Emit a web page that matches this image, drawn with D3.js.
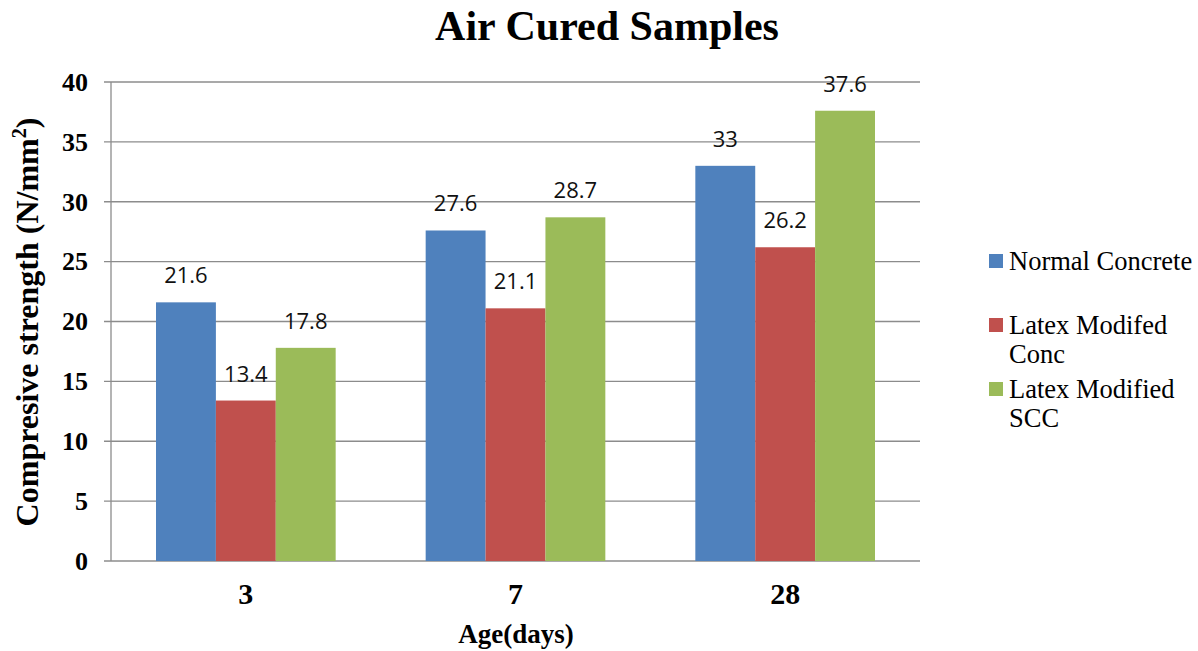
<!DOCTYPE html>
<html>
<head>
<meta charset="utf-8">
<script src="https://cdn.jsdelivr.net/npm/d3@7"></script>
<style>
  body { margin: 0; background: #fff; }
  svg { display: block; }
  .serif { font-family: "Liberation Serif", "Times New Roman", serif; }
  .sans { font-family: "Open Sans", "Liberation Sans", sans-serif; }
</style>
</head>
<body>
<svg id="chart" width="1198" height="651"></svg>
<script>
// chart data
const ages = ["3", "7", "28"];
const seriesNames = ["Normal Concrete", "Latex Modifed Conc", "Latex Modified SCC"];
const normalConcrete = [21.6, 27.6, 33];
const latexConc = [13.4, 21.1, 26.2];
const latexScc = [17.8, 28.7, 37.6];
const yTicks = [0, 5, 10, 15, 20, 25, 30, 35, 40];
const colors = ["#4F81BD", "#C0504D", "#9BBB59"];

const allSeries = [normalConcrete, latexConc, latexScc];

const svg = d3.select("#chart");
const margin = { left: 111, right: 278, top: 82, bottom: 90 };
const width = 1198 - margin.left - margin.right;
const height = 651 - margin.top - margin.bottom;

const g = svg.append("g").attr("transform", `translate(${margin.left},${margin.top})`);

const xScale = d3.scaleBand().domain(ages).range([0, width]).paddingInner(0).paddingOuter(0);
const xInner = d3.scaleBand().domain(d3.range(3)).range([45, xScale.bandwidth() - 45]);
const yScale = d3.scaleLinear().domain([0, 40]).range([height, 0]);

// gridlines
g.append("g")
  .selectAll("line")
  .data(yTicks)
  .enter()
  .append("line")
  .attr("x1", -7)
  .attr("x2", width)
  .attr("y1", d => yScale(d))
  .attr("y2", d => yScale(d))
  .attr("stroke", "#8c8c8c")
  .attr("stroke-width", 1.3);

// y axis labels
const yAxis = d3.axisLeft(yScale).tickValues(yTicks).tickSize(0).tickPadding(23);
g.append("g")
  .call(yAxis)
  .call(s => s.select(".domain").remove())
  .attr("font-family", null)
  .attr("font-size", null)
  .selectAll("text")
  .attr("class", "serif")
  .attr("font-weight", "bold")
  .style("font-size", "26px")
  .attr("fill", "#000");

// bars
const groups = g.selectAll(".grp")
  .data(ages)
  .enter()
  .append("g")
  .attr("class", "grp")
  .attr("transform", d => `translate(${xScale(d)},0)`);

groups.selectAll("rect")
  .data((d, i) => allSeries.map((s, j) => ({ s: j, v: s[i] })))
  .enter()
  .append("rect")
  .attr("x", d => xInner(d.s))
  .attr("width", xInner.bandwidth())
  .attr("y", d => yScale(d.v))
  .attr("height", d => height - yScale(d.v))
  .attr("fill", d => colors[d.s]);

groups.selectAll(".lbl")
  .data((d, i) => allSeries.map((s, j) => ({ s: j, v: s[i] })))
  .enter()
  .append("text")
  .attr("class", "lbl sans")
  .attr("x", d => xInner(d.s) + xInner.bandwidth() / 2)
  .attr("y", d => yScale(d.v) - 19)
  .attr("text-anchor", "middle")
  .style("font-size", "22px")
  .attr("fill", "#111")
  .text(d => d.v);

// y axis line
g.append("line")
  .attr("x1", 0).attr("x2", 0)
  .attr("y1", 0).attr("y2", height)
  .attr("stroke", "#8c8c8c")
  .attr("stroke-width", 1.3);

// x axis
const xAxis = d3.axisBottom(xScale).tickSize(0).tickPadding(22);
g.append("g")
  .attr("transform", `translate(0,${height})`)
  .call(xAxis)
  .call(s => s.select(".domain").remove())
  .attr("font-family", null)
  .attr("font-size", null)
  .selectAll("text")
  .attr("class", "serif")
  .attr("font-weight", "bold")
  .style("font-size", "30px")
  .attr("fill", "#000");

// title
svg.append("text")
  .attr("class", "serif")
  .attr("x", 607)
  .attr("y", 40)
  .attr("text-anchor", "middle")
  .attr("font-weight", "bold")
  .style("font-size", "42px")
  .text("Air Cured Samples");

// axis titles
svg.append("text")
  .attr("class", "serif")
  .attr("x", 516)
  .attr("y", 643)
  .attr("text-anchor", "middle")
  .attr("font-weight", "bold")
  .style("font-size", "27px")
  .text("Age(days)");

const yTitle = svg.append("text")
  .attr("class", "serif")
  .attr("transform", "translate(38,322) rotate(-90)")
  .attr("text-anchor", "middle")
  .attr("font-weight", "bold")
  .style("font-size", "32px");
yTitle.append("tspan").text("Compresive strength (N/mm");
yTitle.append("tspan").attr("dy", -12).style("font-size", "20px").text("2");
yTitle.append("tspan").attr("dy", 12).text(")");

// legend
const legendLines = [["Normal Concrete"], ["Latex Modifed", "Conc"], ["Latex Modified", "SCC"]];
const legendY = [261, 325, 389];
const legend = svg.append("g");
legendLines.forEach((lines, i) => {
  legend.append("rect")
    .attr("x", 989)
    .attr("y", legendY[i] - 7)
    .attr("width", 14)
    .attr("height", 14)
    .attr("fill", colors[i]);
  const t = legend.append("text")
    .attr("class", "serif")
    .style("font-size", "26.5px")
    .attr("fill", "#000");
  lines.forEach((ln, k) => {
    t.append("tspan")
      .attr("x", 1009)
      .attr("y", legendY[i] + 9 + k * 29)
      .text(ln);
  });
});
</script>
</body>
</html>
